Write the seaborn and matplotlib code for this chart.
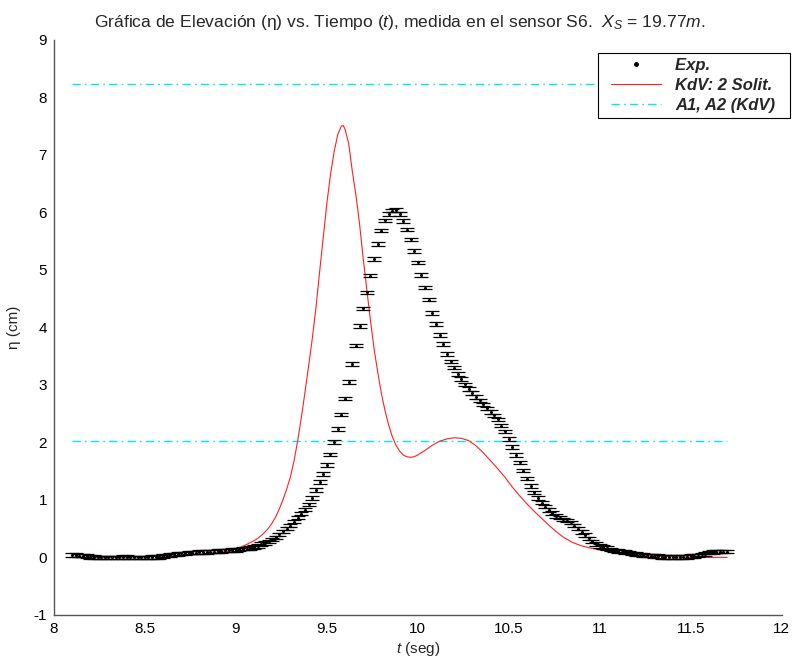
import numpy as np
import pandas as pd
import matplotlib
matplotlib.use("Agg")
import matplotlib.pyplot as plt
from matplotlib.lines import Line2D
from matplotlib.legend_handler import HandlerLine2D
import seaborn as sns

# Measured surface elevation at sensor S6 (cm), sampled every 0.02 s from 8.10 s
t_start = 8.10
t_step = 0.02
eta_exp = [
    0.04, 0.04, 0.03, 0.03, 0.02, 0.01, 0.01, 0.00, 0.00, 0.00,
    0.00, 0.00, 0.00, 0.00, 0.01, 0.01, 0.00, 0.00, 0.00, 0.00,
    0.00, 0.00, 0.01, 0.01, 0.01, 0.02, 0.03, 0.04, 0.05, 0.06,
    0.07, 0.07, 0.08, 0.08, 0.08, 0.09, 0.09, 0.09, 0.10, 0.10,
    0.11, 0.11, 0.12, 0.12, 0.13, 0.13, 0.14, 0.15, 0.15, 0.16,
    0.18, 0.20, 0.23, 0.25, 0.28, 0.31, 0.35, 0.40, 0.45, 0.50,
    0.55, 0.62, 0.69, 0.76, 0.83, 0.92, 1.03, 1.17, 1.31, 1.45,
    1.61, 1.79, 2.01, 2.23, 2.48, 2.76, 3.05, 3.36, 3.68, 4.02,
    4.33, 4.61, 4.90, 5.19, 5.45, 5.68, 5.86, 5.97, 6.03, 6.04,
    5.97, 5.85, 5.70, 5.53, 5.33, 5.13, 4.91, 4.69, 4.48, 4.25,
    4.06, 3.87, 3.71, 3.54, 3.41, 3.30, 3.19, 3.10, 3.01, 2.93,
    2.86, 2.79, 2.73, 2.66, 2.59, 2.53, 2.47, 2.40, 2.29, 2.19,
    2.06, 1.92, 1.78, 1.65, 1.51, 1.37, 1.24, 1.13, 1.03, 0.95,
    0.88, 0.82, 0.77, 0.72, 0.69, 0.66, 0.64, 0.61, 0.55, 0.50,
    0.44, 0.39, 0.33, 0.28, 0.23, 0.20, 0.18, 0.16, 0.14, 0.12,
    0.11, 0.10, 0.09, 0.08, 0.07, 0.06, 0.05, 0.04, 0.03, 0.03,
    0.02, 0.02, 0.01, 0.01, 0.01, 0.01, 0.01, 0.01, 0.01, 0.01,
    0.02, 0.02, 0.03, 0.05, 0.06, 0.08, 0.09, 0.10, 0.10, 0.10,
    0.10,
]
eta_err = 0.03

# KdV two-soliton solution
t_kdv = [
    8.10, 8.30, 8.50, 8.60, 8.70, 8.80, 8.90, 8.95, 9.00, 9.05,
    9.10, 9.12, 9.14, 9.16, 9.18, 9.20, 9.22, 9.24, 9.26, 9.28,
    9.30, 9.32, 9.34, 9.36, 9.38, 9.40, 9.42, 9.44, 9.46, 9.48,
    9.50, 9.52, 9.54, 9.56, 9.58, 9.59, 9.60, 9.62, 9.64, 9.66,
    9.68, 9.70, 9.72, 9.74, 9.76, 9.78, 9.80, 9.82, 9.84, 9.86,
    9.88, 9.90, 9.92, 9.94, 9.96, 9.98, 10.00, 10.04, 10.08, 10.12,
    10.16, 10.20, 10.24, 10.28, 10.32, 10.36, 10.40, 10.44, 10.48, 10.52,
    10.56, 10.60, 10.64, 10.68, 10.72, 10.76, 10.80, 10.85, 10.90, 10.95,
    11.00, 11.10, 11.20, 11.30, 11.50, 11.70,
]
eta_kdv = [
    0.00, 0.00, 0.01, 0.02, 0.03, 0.05, 0.08, 0.10, 0.14, 0.21,
    0.29, 0.33, 0.38, 0.44, 0.51, 0.60, 0.71, 0.85, 1.01, 1.19,
    1.40, 1.68, 2.03, 2.43, 2.87, 3.33, 3.80, 4.33, 4.95, 5.55,
    6.15, 6.65, 7.05, 7.35, 7.50, 7.51, 7.45, 7.20, 6.72, 6.30,
    5.80, 5.20, 4.65, 4.12, 3.62, 3.22, 2.85, 2.55, 2.30, 2.10,
    1.95, 1.85, 1.78, 1.75, 1.74, 1.75, 1.78, 1.86, 1.95, 2.02,
    2.06, 2.08, 2.07, 2.03, 1.94, 1.82, 1.68, 1.54, 1.39, 1.22,
    1.07, 0.93, 0.80, 0.68, 0.56, 0.45, 0.35, 0.26, 0.20, 0.16,
    0.13, 0.08, 0.05, 0.02, 0.00, 0.00,
]

# Soliton amplitudes A1, A2 (cm)
amplitudes = [8.24, 2.03]
amp_t_range = [8.10, 11.70]

t_exp = np.round(t_start + t_step * np.arange(len(eta_exp)), 2)
df_exp = pd.DataFrame({"t": t_exp, "eta": eta_exp})
df_kdv = pd.DataFrame({"t": t_kdv, "eta": eta_kdv})

sns.set_style("white")
plt.rcParams["font.family"] = ["Liberation Sans", "DejaVu Sans"]
plt.rcParams["mathtext.fontset"] = "custom"
plt.rcParams["mathtext.rm"] = "Liberation Sans"
plt.rcParams["mathtext.it"] = "Liberation Sans:italic"
plt.rcParams["mathtext.bf"] = "Liberation Sans:bold"
plt.rcParams["axes.unicode_minus"] = False

fig = plt.figure(figsize=(7.92, 6.64), dpi=100)
ax = fig.add_axes([0.068, 0.074, 0.919, 0.866])

amp_color = "#00e8f0"
amp_dash = (0, (6, 3, 1.2, 3))
for a in amplitudes:
    ax.plot(amp_t_range, [a, a], color=amp_color, linewidth=1.0,
            linestyle=amp_dash, zorder=1)

sns.lineplot(data=df_kdv, x="t", y="eta", ax=ax, color="#ff2020",
             linewidth=0.8, zorder=2, sort=False)

ax.errorbar(df_exp["t"], df_exp["eta"], yerr=eta_err, fmt="none",
            ecolor="black", elinewidth=0.6, capsize=4.8, capthick=0.9,
            zorder=3)
sns.scatterplot(data=df_exp, x="t", y="eta", ax=ax, color="black",
                marker="o", s=5, linewidth=0, zorder=4)

ax.set_xlim(8, 12)
ax.set_ylim(-1, 9)
ax.set_xticks([8, 8.5, 9, 9.5, 10, 10.5, 11, 11.5, 12])
ax.set_xticklabels(["8", "8.5", "9", "9.5", "10", "10.5", "11", "11.5", "12"])
ax.set_yticks(range(-1, 10))

for side in ("top", "right"):
    ax.spines[side].set_visible(False)
for side in ("left", "bottom"):
    ax.spines[side].set_color("#555555")
    ax.spines[side].set_linewidth(1.0)
ax.tick_params(direction="in", length=5, width=0.9, color="#555555",
               labelsize=11, labelcolor="black", pad=5)

ax.set_xlabel("$t$ (seg)", fontsize=11, labelpad=3)
ax.set_ylabel("η (cm)", fontsize=11, labelpad=9)
ax.set_title("Gráfica de Elevación (η) vs. Tiempo ($t$), medida en el sensor S6.  "
             "$X_S$ = 19.77$m$.", fontsize=12.6, pad=9, x=0.475)

handles = [
    Line2D([], [], color="black", marker="o", markersize=2.5, linestyle="none"),
    Line2D([], [], color="#ff2020", linewidth=0.8),
    Line2D([], [], color=amp_color, linewidth=1.0, linestyle=amp_dash),
]
labels = ["Exp.  ", "KdV: 2 Solit.  ", "A1, A2 (KdV)  "]
leg = ax.legend(handles, labels, loc="upper right", bbox_to_anchor=(1.011, 0.977),
                frameon=True, fancybox=False, edgecolor="black", framealpha=1,
                prop={"family": "Liberation Sans", "weight": "bold",
                      "style": "italic", "size": 12},
                handler_map={Line2D: HandlerLine2D(xpad=0.5)},
                handlelength=3.5, handletextpad=0.85, borderpad=0.3,
                borderaxespad=0, labelspacing=0.3)
leg.get_frame().set_linewidth(0.8)

fig.savefig("out.png", dpi=100)
